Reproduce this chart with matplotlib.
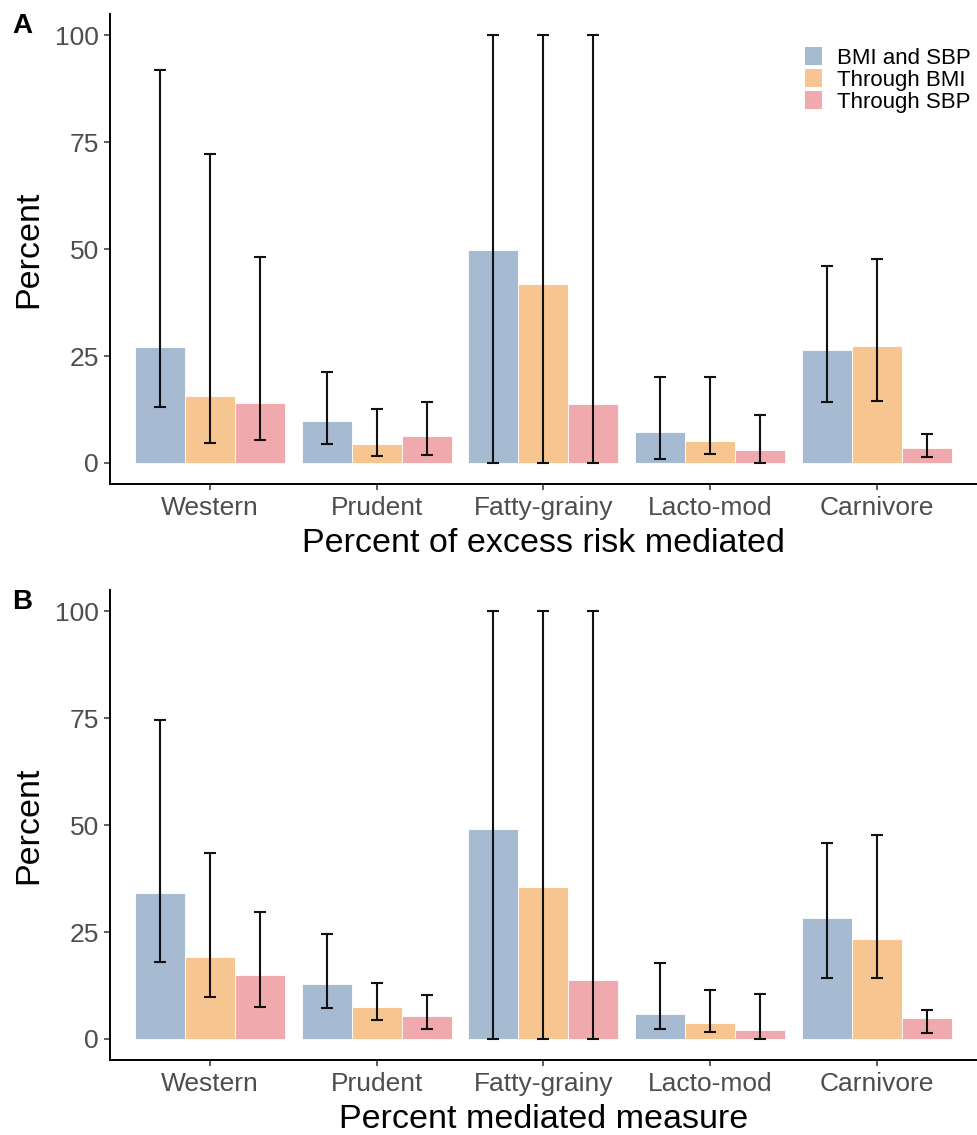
import matplotlib
matplotlib.use('Agg')
import matplotlib.pyplot as plt
import numpy as np
from matplotlib.patches import Patch

plt.rcParams['font.family'] = ['Liberation Sans', 'DejaVu Sans']

categories = ['Western', 'Prudent', 'Fatty-grainy', 'Lacto-mod', 'Carnivore']
series = ['BMI and SBP', 'Through BMI', 'Through SBP']
colors = ['#a6bad2', '#f7c590', '#f0aaad']

# Panel A: percent of excess risk mediated
a_both = [27.1, 9.7, 49.8, 7.3, 26.3]
a_both_lo = [13.1, 4.4, 0.0, 1.0, 14.3]
a_both_hi = [91.9, 21.3, 100.0, 20.0, 46.0]
a_bmi = [15.7, 4.4, 41.8, 5.2, 27.3]
a_bmi_lo = [4.7, 1.6, 0.0, 2.2, 14.4]
a_bmi_hi = [72.3, 12.7, 100.0, 20.0, 47.6]
a_sbp = [14.0, 6.2, 13.9, 3.0, 3.6]
a_sbp_lo = [5.4, 1.8, 0.0, 0.0, 1.5]
a_sbp_hi = [48.1, 14.3, 100.0, 11.3, 6.7]

# Panel B: percent mediated measure
b_both = [34.1, 12.8, 49.0, 5.8, 28.3]
b_both_lo = [18.1, 7.2, 0.0, 2.3, 14.2]
b_both_hi = [74.5, 24.6, 100.0, 17.7, 45.8]
b_bmi = [19.2, 7.5, 35.5, 3.8, 23.3]
b_bmi_lo = [9.7, 4.4, 0.0, 1.6, 14.3]
b_bmi_hi = [43.4, 13.1, 100.0, 11.5, 47.7]
b_sbp = [14.9, 5.3, 13.8, 2.0, 5.0]
b_sbp_lo = [7.5, 2.3, 0.0, 0.0, 1.4]
b_sbp_hi = [29.6, 10.2, 100.0, 10.6, 6.8]

yticks = [0, 25, 50, 75, 100]

W, H = 977, 1135
fig = plt.figure(figsize=(W / 100, H / 100), dpi=100)

def make_axes(top_px, bottom_px):
    left = 110 / W
    return fig.add_axes([left, 1 - bottom_px / H, 1 - left - 0.0005, (bottom_px - top_px) / H])

axA = make_axes(13.6, 484.4)
axB = make_axes(589.6, 1060.4)

def draw(ax, groups, xlabel, letter, letter_top_px):
    x = np.arange(len(categories))
    bw = 0.3
    for i, (est, lo, hi) in enumerate(groups):
        xpos = x + (i - 1) * bw
        est = np.array(est); lo = np.array(lo); hi = np.array(hi)
        ax.bar(xpos, est, width=bw, color=colors[i], edgecolor='#ffffff', linewidth=0.6, zorder=2)
        ax.errorbar(xpos, est, yerr=[est - lo, hi - est], fmt='none', ecolor='#111111',
                    elinewidth=1.5, capsize=4.2, capthick=1.5, zorder=3)
    ax.set_xlim(-0.6, len(categories) - 0.4)
    ax.set_ylim(-5, 105)
    ax.set_yticks(yticks)
    ax.set_yticklabels([str(t) for t in yticks])
    ax.set_xticks(x)
    ax.set_xticklabels(categories)
    for s in ['top', 'right']:
        ax.spines[s].set_visible(False)
    for s in ['left', 'bottom']:
        ax.spines[s].set_linewidth(1.4)
        ax.spines[s].set_color('black')
    ax.tick_params(axis='both', length=4, width=1.1, color='#333333', labelcolor='#4d4d4d',
                   labelsize=19, pad=4)
    ax.set_xlabel(xlabel, fontsize=24.5, color='black', labelpad=6)
    ax.set_ylabel('Percent', fontsize=24.5, color='black', labelpad=8)
    fig.text(12 / W, 1 - letter_top_px / H, letter, fontsize=20, fontweight='bold',
             ha='left', va='top')

draw(axA, [(a_both, a_both_lo, a_both_hi), (a_bmi, a_bmi_lo, a_bmi_hi), (a_sbp, a_sbp_lo, a_sbp_hi)],
     'Percent of excess risk mediated', 'A', 13)
draw(axB, [(b_both, b_both_lo, b_both_hi), (b_bmi, b_bmi_lo, b_bmi_hi), (b_sbp, b_sbp_lo, b_sbp_hi)],
     'Percent mediated measure', 'B', 589)

handles = [Patch(facecolor=c, edgecolor='none') for c in colors]
axA.legend(handles, series, loc='upper left', bbox_to_anchor=(805 / W, 1 - 47 / H),
           bbox_transform=fig.transFigure, frameon=False, fontsize=16,
           handlelength=0.75, handleheight=0.9, handletextpad=0.7, labelspacing=0.0,
           borderpad=0, borderaxespad=0)

fig.savefig('out.png', dpi=100)
